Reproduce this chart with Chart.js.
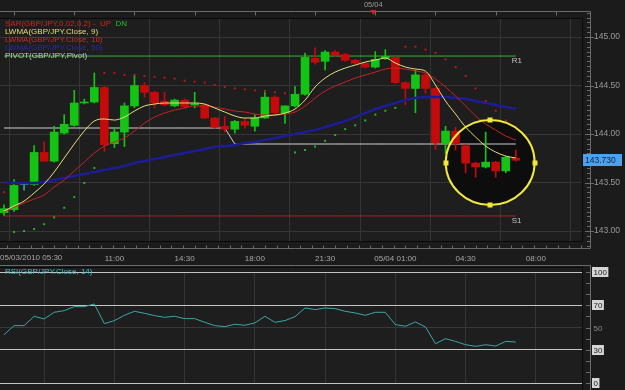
<!DOCTYPE html>
<html>
<head>
<meta charset="utf-8">
<script src="https://cdn.jsdelivr.net/npm/chart.js@4.4.1/dist/chart.umd.min.js"></script>
<style>
  html, body { margin: 0; padding: 0; background: #1b1b1b; }
  #wrap { position: relative; width: 625px; height: 390px; overflow: hidden; }
  #price { position: absolute; left: 0; top: 0; }
  #rsi { position: absolute; left: 0; top: 265px; }
</style>
</head>
<body>
<div id="wrap">
  <canvas id="price" width="625" height="265"></canvas>
  <canvas id="rsi" width="625" height="125"></canvas>
</div>
<script>
// GBP/JPY 30 min bars, 05/03/2010 05:30 onwards
var opens  = [143.19, 143.22, 143.48, 143.48, 143.81, 143.72, 144.01, 144.09, 144.32, 144.33,
              144.48, 143.90, 144.02, 144.29, 144.50, 144.43, 144.34, 144.29, 144.35, 144.30,
              144.30, 144.165, 144.08, 144.05, 144.13, 144.08, 144.165, 144.38, 144.22, 144.29,
              144.41, 144.78, 144.75, 144.845, 144.82, 144.76, 144.73, 144.69, 144.78, 144.79,
              144.53, 144.47, 144.61, 144.47, 143.90, 144.03, 143.88, 143.70, 143.66, 143.71,
              143.62, 143.75];
var highs  = [143.27, 143.53, 143.50, 143.88, 143.92, 144.08, 144.20, 144.45, 144.36, 144.63,
              144.49, 144.07, 144.32, 144.61, 144.53, 144.44, 144.43, 144.36, 144.36, 144.43,
              144.31, 144.17, 144.18, 144.14, 144.16, 144.20, 144.45, 144.39, 144.29, 144.49,
              144.835, 144.89, 144.86, 144.86, 144.83, 144.77, 144.74, 144.85, 144.87, 144.80,
              144.54, 144.66, 144.62, 144.48, 144.08, 144.07, 143.89, 143.71, 144.02, 143.72,
              143.77, 143.835];
var lows   = [143.16, 143.20, 143.42, 143.47, 143.72, 143.71, 144.00, 144.08, 144.31, 144.32,
              143.82, 143.86, 143.87, 144.27, 144.38, 144.27, 144.29, 144.28, 144.27, 144.27,
              144.16, 144.06, 144.02, 144.01, 144.06, 144.03, 144.16, 144.21, 144.11, 144.28,
              144.40, 144.72, 144.66, 144.80, 144.75, 144.72, 144.68, 144.68, 144.77, 144.52,
              144.30, 144.22, 144.42, 143.84, 143.80, 143.835, 143.60, 143.555, 143.65, 143.555,
              143.60, 143.72];
var closes = [143.23, 143.47, 143.48, 143.81, 143.72, 144.02, 144.10, 144.32, 144.33, 144.48,
              143.89, 144.02, 144.29, 144.50, 144.43, 144.32, 144.30, 144.35, 144.28, 144.31,
              144.165, 144.07, 144.05, 144.13, 144.09, 144.165, 144.38, 144.22, 144.29, 144.41,
              144.79, 144.74, 144.845, 144.815, 144.76, 144.73, 144.69, 144.77, 144.80, 144.53,
              144.47, 144.61, 144.47, 143.91, 144.03, 143.90, 143.70, 143.66, 143.71, 143.62,
              143.76, 143.73];

// SAR(0.02, 0.2)
var sar = [143.40, 142.99, 143.00, 143.02, 143.07, 143.14, 143.24, 143.35, 143.495, 143.65,
           144.63, 144.63, 144.61, 144.61, 144.60, 144.59, 144.58, 144.57, 144.55, 144.54,
           144.53, 144.505, 144.485, 144.47, 144.46, 144.45, 144.44, 144.43, 144.42, 143.81,
           143.835, 143.87, 143.93, 143.99, 144.05, 144.09, 144.14, 144.20, 144.24, 144.27,
           144.90, 144.90, 144.87, 144.835, 144.77, 144.69, 144.60, 144.47, 144.34, 144.24,
           144.14, 144.07];

var lwma9 = [143.206, 143.258, 143.309, 143.392, 143.485, 143.608, 143.753, 143.897, 144.031, 144.134,
             144.155, 144.144, 144.175, 144.237, 144.289, 144.309, 144.32, 144.32, 144.32, 144.32,
             144.309, 144.268, 144.227, 144.186, 144.165, 144.165, 144.186, 144.196, 144.216, 144.258,
             144.35, 144.485, 144.577, 144.639, 144.68, 144.711, 144.742, 144.763, 144.783, 144.732,
             144.691, 144.67, 144.649, 144.505, 144.34, 144.206, 144.072, 143.969, 143.876, 143.814,
             143.773, 143.753];
var lwma16 = [143.196, 143.247, 143.289, 143.33, 143.371, 143.454, 143.526, 143.619, 143.711, 143.804,
              143.876, 143.918, 143.959, 144.031, 144.113, 144.175, 144.216, 144.247, 144.268, 144.289,
              144.289, 144.278, 144.258, 144.237, 144.227, 144.206, 144.196, 144.196, 144.206, 144.227,
              144.289, 144.371, 144.443, 144.495, 144.536, 144.577, 144.608, 144.639, 144.67, 144.68,
              144.67, 144.649, 144.629, 144.567, 144.485, 144.392, 144.289, 144.186, 144.103, 144.041,
              143.979, 143.938];
var lwma50 = [143.505, 143.495, 143.495, 143.495, 143.505, 143.526, 143.546, 143.567, 143.588, 143.608,
              143.629, 143.649, 143.67, 143.701, 143.722, 143.742, 143.763, 143.784, 143.804, 143.825,
              143.845, 143.866, 143.876, 143.887, 143.907, 143.918, 143.938, 143.959, 143.979, 144.0,
              144.021, 144.041, 144.072, 144.103, 144.134, 144.175, 144.216, 144.258, 144.289, 144.32,
              144.35, 144.371, 144.381, 144.381, 144.381, 144.371, 144.361, 144.34, 144.32, 144.299,
              144.278, 144.258];

// pivot levels (pivot resets at 17:00)
var pivotBefore = 144.062;
var pivotAfter = 143.897;
var pivotResetBar = 23;
var r1Level = 144.804;
var s1Level = 143.155;

var rsi = [43.5, 51.7, 51.7, 60.1, 57.7, 63.7, 65.2, 68.8, 68.8, 71.2,
           53.5, 56.2, 61.0, 64.6, 62.8, 60.7, 59.2, 60.1, 58.0, 58.0,
           54.7, 51.7, 50.8, 52.9, 52.0, 54.1, 60.1, 54.7, 56.2, 59.8,
           67.6, 66.1, 67.6, 67.0, 64.6, 63.1, 61.0, 63.7, 63.7, 52.6,
           51.1, 55.0, 50.5, 35.4, 39.9, 37.5, 34.5, 33.0, 34.5, 33.3,
           37.5, 36.9];

var priceTicks = [143.00, 143.50, 144.00, 144.50, 145.00];
var rsiTicks = [0, 30, 50, 70, 100];
var rsiBoxed = [0, 30, 70, 100];
var timeTickBars = [4, 11, 18, 25, 32, 39, 46, 53];
var timeTickText = ['', '11:00', '14:30', '18:00', '21:30', '05/04 01:00', '04:30', '08:00'];
var firstBarText = '05/03/2010 05:30';
var dayBar = 37;
var dayText = '05/04';
var lastPrice = 143.730;
// yellow ring drawn round the last bars
var ring = { bar: 48.45, price: 143.706, bars: 4.43, prices: 0.438 };

var FONT = '"Liberation Sans", Arial, sans-serif';
var GRID = '#353535';
var FRAME = '#6a6a6a';

function pts(arr) {
    return arr.map(function (v, i) { return { x: i, y: v }; });
}
function candleColor(i) {
    if (closes[i] > opens[i]) return '#14c414';
    if (closes[i] < opens[i]) return '#c40a0a';
    return '#3a9e9e';
}
var colors = closes.map(function (c, i) { return candleColor(i); });
var bodies = closes.map(function (c, i) { return { x: i, y: [opens[i], c] }; });
var wicks = closes.map(function (c, i) { return { x: i, y: [lows[i], highs[i]] }; });
var pivot = closes.map(function (c, i) { return i < pivotResetBar ? pivotBefore : pivotAfter; });
var r1 = closes.map(function () { return r1Level; });
var s1 = closes.map(function () { return s1Level; });

function timeTicks(scale) {
    scale.ticks = timeTickBars.map(function (v) { return { value: v }; });
}

var mainDecor = {
    id: 'mainDecor',
    beforeDraw: function (chart) {
        var ctx = chart.ctx, a = chart.chartArea;
        ctx.save();
        ctx.fillStyle = '#1b1b1b';
        ctx.fillRect(0, 0, chart.width, chart.height);
        ctx.fillStyle = '#1e1e1e';
        ctx.fillRect(a.left, a.top, a.right - a.left, a.bottom - a.top);
        ctx.restore();
    },
    beforeDatasetsDraw: function (chart) {
        // dark inside of the ring
        var ctx = chart.ctx, xs = chart.scales.x, ys = chart.scales.y;
        var cx = xs.getPixelForValue(ring.bar), cy = ys.getPixelForValue(ring.price);
        var rx = xs.getPixelForValue(ring.bar + ring.bars) - cx;
        var ry = cy - ys.getPixelForValue(ring.price + ring.prices);
        ctx.save();
        ctx.fillStyle = '#0d0d0d';
        ctx.beginPath();
        ctx.ellipse(cx, cy, rx, ry, 0, 0, Math.PI * 2);
        ctx.fill();
        ctx.restore();
    },
    afterDraw: function (chart) {
        var ctx = chart.ctx, a = chart.chartArea, xs = chart.scales.x, ys = chart.scales.y;
        ctx.save();
        // ring outline and handles
        var cx = xs.getPixelForValue(ring.bar), cy = ys.getPixelForValue(ring.price);
        var rx = xs.getPixelForValue(ring.bar + ring.bars) - cx;
        var ry = cy - ys.getPixelForValue(ring.price + ring.prices);
        ctx.strokeStyle = '#f0e83c';
        ctx.lineWidth = 2;
        ctx.beginPath();
        ctx.ellipse(cx, cy, rx, ry, 0, 0, Math.PI * 2);
        ctx.stroke();
        ctx.fillStyle = '#f0e83c';
        [[cx, cy - ry], [cx, cy + ry], [cx - rx, cy], [cx + rx, cy]].forEach(function (p) {
            ctx.fillRect(Math.round(p[0]) - 2.5, Math.round(p[1]) - 2.5, 5, 5);
        });

        // plot border
        ctx.strokeStyle = '#0a0a0a';
        ctx.lineWidth = 1;
        ctx.beginPath();
        ctx.moveTo(a.left, a.top - 0.5); ctx.lineTo(a.right + 0.5, a.top - 0.5);
        ctx.lineTo(a.right + 0.5, a.bottom + 0.5); ctx.lineTo(a.left, a.bottom + 0.5);
        ctx.stroke();

        // outer frame
        var fTop = 11.5, fRight = 590.5, fBottom = 248.5;
        ctx.strokeStyle = FRAME;
        ctx.beginPath();
        ctx.moveTo(0, fTop); ctx.lineTo(fRight, fTop);
        ctx.lineTo(fRight, fBottom); ctx.lineTo(0, fBottom);
        ctx.stroke();

        // price axis ticks
        ctx.beginPath();
        for (var k = 0; k <= 50; k++) {
            var v = 142.85 + k * 0.05;
            var y = Math.round(ys.getPixelForValue(v)) + 0.5;
            if (y < 13 || y > 247) continue;
            var major = Math.abs(v * 2 - Math.round(v * 2)) < 1e-6;
            ctx.moveTo(major ? 585 : 587, y);
            ctx.lineTo(major ? 594 : 590, y);
        }
        // time axis ticks
        for (var t = -6; t <= 60; t += 7 / 6) {
            var x = Math.round(xs.getPixelForValue(t + 4)) + 0.5;
            if (x < 0 || x > 589) continue;
            var isMajor = Math.abs((t / (7 / 6)) % 6) < 1e-6;
            ctx.moveTo(x, fBottom);
            ctx.lineTo(x, fBottom - (isMajor ? 7 : 3));
        }
        // top strip ticks
        for (var b = 1; b < 58; b += 6) {
            var tx = Math.round(xs.getPixelForValue(b)) + 0.5;
            ctx.moveTo(tx, fTop);
            ctx.lineTo(tx, fTop + 4);
        }
        ctx.stroke();

        // day marker
        var dx = xs.getPixelForValue(dayBar);
        ctx.fillStyle = '#9a9a9a';
        ctx.font = '7.5px ' + FONT;
        ctx.textAlign = 'center';
        ctx.textBaseline = 'middle';
        ctx.fillText(dayText, dx - 2, 5);
        ctx.fillStyle = '#d42020';
        ctx.beginPath();
        ctx.moveTo(dx - 5, 10); ctx.lineTo(dx + 1, 10); ctx.lineTo(dx - 2, 15);
        ctx.closePath();
        ctx.fill();

        // first bar time label
        ctx.fillStyle = '#a8a8a8';
        ctx.font = '8px ' + FONT;
        ctx.textAlign = 'left';
        ctx.fillText(firstBarText, 0, 258);

        // R1 / S1 labels
        var endX = xs.getPixelForValue(closes.length - 1) - 4;
        ctx.fillStyle = '#c4c4c4';
        ctx.font = '8px ' + FONT;
        ctx.fillText('R1', endX, ys.getPixelForValue(r1Level) + 5);
        ctx.fillText('S1', endX, ys.getPixelForValue(s1Level) + 5);

        // last price box
        var py = Math.round(ys.getPixelForValue(lastPrice));
        ctx.fillStyle = '#4aa2f0';
        ctx.fillRect(583, py - 6, 39, 12);
        ctx.fillStyle = '#0c2440';
        ctx.font = '8.5px ' + FONT;
        ctx.fillText(lastPrice.toFixed(3), 585, py + 0.5);

        // indicator titles
        ctx.font = '8px ' + FONT;
        var rows = [
            [['SAR(GBP/JPY,0.02,0.2) -  UP', '#d42020'], ['  DN', '#22c022']],
            [['LWMA(GBP/JPY.Close, 9)', '#e6de7a']],
            [['LWMA(GBP/JPY.Close, 16)', '#d02828']],
            [['LWMA(GBP/JPY.Close, 50)', '#2a2aa8']],
            [['PIVOT(GBP/JPY,Pivot)', '#c8c8c8']]
        ];
        rows.forEach(function (row, r) {
            var x = 5;
            row.forEach(function (part) {
                ctx.fillStyle = part[1];
                ctx.fillText(part[0], x, 24 + r * 8);
                x += ctx.measureText(part[0]).width;
            });
        });
        ctx.restore();
    }
};

var rsiDecor = {
    id: 'rsiDecor',
    beforeDraw: function (chart) {
        var ctx = chart.ctx, a = chart.chartArea;
        ctx.save();
        ctx.fillStyle = '#1b1b1b';
        ctx.fillRect(0, 0, chart.width, chart.height);
        ctx.fillStyle = '#1e1e1e';
        ctx.fillRect(a.left, 2, a.right - a.left, chart.height - 2);
        ctx.restore();
    },
    afterDraw: function (chart) {
        var ctx = chart.ctx, a = chart.chartArea, ys = chart.scales.y;
        ctx.save();
        ctx.strokeStyle = '#0a0a0a';
        ctx.beginPath();
        ctx.moveTo(0, 2.5); ctx.lineTo(a.right + 0.5, 2.5); ctx.lineTo(a.right + 0.5, chart.height);
        ctx.stroke();
        ctx.strokeStyle = FRAME;
        ctx.beginPath();
        ctx.moveTo(0, 0.5); ctx.lineTo(590.5, 0.5);
        ctx.moveTo(590.5, 0); ctx.lineTo(590.5, chart.height);
        for (var v = 0; v <= 100; v += 10) {
            var y = Math.round(ys.getPixelForValue(v)) + 0.5;
            ctx.moveTo(586, y);
            ctx.lineTo(590, y);
        }
        ctx.stroke();

        ctx.font = '8px ' + FONT;
        ctx.textBaseline = 'middle';
        ctx.textAlign = 'left';
        rsiTicks.forEach(function (v) {
            var y = Math.round(ys.getPixelForValue(v));
            var txt = String(v);
            if (rsiBoxed.indexOf(v) >= 0) {
                var w = ctx.measureText(txt).width + 3;
                ctx.fillStyle = '#d6d6d6';
                ctx.fillRect(592, y - 5, w, 10);
                ctx.fillStyle = '#1a1a1a';
            } else {
                ctx.fillStyle = '#8a8a8a';
            }
            ctx.fillText(txt, 593.5, y + 0.5);
        });

        ctx.fillStyle = '#3cc0c0';
        ctx.font = '8px ' + FONT;
        ctx.fillText('RSI(GBP/JPY.Close, 14)', 5, 7);
        ctx.restore();
    }
};

new Chart(document.getElementById('price'), {
    type: 'bar',
    data: {
        datasets: [
            {
                type: 'scatter', data: pts(sar), order: 0,
                pointStyle: 'rect', pointRadius: 1.4, pointBorderWidth: 0,
                pointBackgroundColor: sar.map(function (v, i) { return v > closes[i] ? '#b81818' : '#26b426'; }),
            },
            {
                type: 'line', data: pts(lwma9), order: 1, borderColor: '#e6de7a', borderWidth: 1,
                pointRadius: 0, fill: false, cubicInterpolationMode: 'monotone',
            },
            {
                type: 'line', data: pts(lwma16), order: 2, borderColor: '#c82222', borderWidth: 1,
                pointRadius: 0, fill: false, cubicInterpolationMode: 'monotone',
            },
            {
                type: 'line', data: pts(lwma50), order: 3, borderColor: '#1c1c96', borderWidth: 2.5,
                pointRadius: 0, fill: false, cubicInterpolationMode: 'monotone',
            },
            {
                type: 'bar', data: bodies, order: 4, backgroundColor: colors,
                barThickness: 8, minBarLength: 1, grouped: false, borderWidth: 0,
            },
            {
                type: 'bar', data: wicks, order: 5, backgroundColor: colors,
                barThickness: 1, grouped: false, borderWidth: 0,
            },
            {
                type: 'line', data: pts(pivot), order: 6, borderColor: '#d0d0d0', borderWidth: 1,
                pointRadius: 0, fill: false, tension: 0,
            },
            {
                type: 'line', data: pts(r1), order: 7, borderColor: '#38b238', borderWidth: 1,
                pointRadius: 0, fill: false, tension: 0,
            },
            {
                type: 'line', data: pts(s1), order: 8, borderColor: '#a62222', borderWidth: 1,
                pointRadius: 0, fill: false, tension: 0,
            },
        ],
    },
    options: {
        responsive: false,
        animation: false,
        events: [],
        layout: { autoPadding: false, padding: { top: 19, left: 0, right: 0, bottom: 0 } },
        plugins: { legend: { display: false }, tooltip: { enabled: false } },
        scales: {
            x: {
                type: 'linear', min: -0.4, max: 57.6, offset: false,
                afterBuildTicks: timeTicks,
                afterFit: function (s) { s.height = 24; },
                grid: { color: GRID, drawTicks: false },
                border: { display: false },
                ticks: {
                    padding: 13, color: '#a8a8a8', font: { family: FONT, size: 8 }, maxRotation: 0,
                    autoSkip: false,
                    callback: function (v) {
                        var k = timeTickBars.indexOf(v);
                        return k >= 0 ? timeTickText[k] : '';
                    },
                },
            },
            y: {
                position: 'right', min: 142.897, max: 145.186,
                afterBuildTicks: function (s) { s.ticks = priceTicks.map(function (v) { return { value: v }; }); },
                afterFit: function (s) { s.width = 43; },
                grid: { color: GRID, drawTicks: false },
                border: { display: false },
                ticks: {
                    padding: 12, color: '#9a9a9a', font: { family: FONT, size: 8.5 },
                    callback: function (v) { return Number(v).toFixed(2); },
                },
            },
        },
    },
    plugins: [mainDecor],
});

new Chart(document.getElementById('rsi'), {
    type: 'line',
    data: {
        datasets: [{
            data: pts(rsi), borderColor: '#3aa6a6', borderWidth: 1, pointRadius: 0, tension: 0, fill: false,
        }],
    },
    options: {
        responsive: false,
        animation: false,
        events: [],
        layout: { autoPadding: false, padding: { top: 7, bottom: 7, left: 0, right: 0 } },
        plugins: { legend: { display: false }, tooltip: { enabled: false } },
        scales: {
            x: {
                type: 'linear', min: -0.4, max: 57.6, offset: false,
                afterBuildTicks: timeTicks,
                afterFit: function (s) { s.height = 0; },
                grid: { color: GRID, drawTicks: false },
                border: { display: false },
                ticks: { display: false },
            },
            y: {
                position: 'right', min: 0, max: 100,
                afterBuildTicks: function (s) { s.ticks = rsiTicks.map(function (v) { return { value: v }; }); },
                afterFit: function (s) { s.width = 43; },
                grid: {
                    drawTicks: false,
                    color: function (ctx) { return ctx.tick && ctx.tick.value === 50 ? '#383838' : '#c4c4c4'; },
                },
                border: { display: false },
                ticks: { display: false },
            },
        },
    },
    plugins: [rsiDecor],
});
</script>
</body>
</html>
